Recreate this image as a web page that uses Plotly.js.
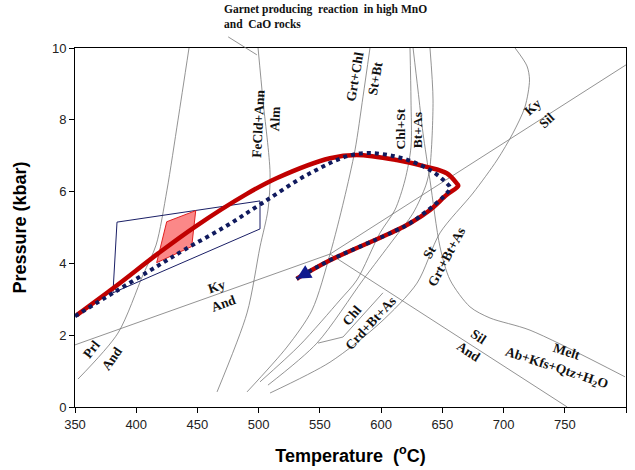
<!DOCTYPE html>
<html><head><meta charset="utf-8">
<script src="https://cdn.plot.ly/plotly-3.0.1.min.js"></script>
<style>html,body{margin:0;padding:0;background:#fff}#chart{width:635px;height:470px}</style>
</head><body><div id="chart"></div>
<script>
// ---- PT path (prograde + retrograde) ----
const redT = [351.4, 382.7, 418, 448, 490, 515, 558.3, 580, 612.7, 637.2, 653.6, 661.7, 663, 653.6, 640, 623.6, 607.3, 558.3, 536.4, 531];
const redP = [2.56, 3.35, 4.28, 5.02, 5.93, 6.38, 6.93, 7.02, 6.88, 6.69, 6.51, 6.23, 6.16, 5.91, 5.49, 5.12, 4.84, 4.09, 3.68, 3.57];
const blueT = [350, 382.7, 418, 439.8, 472.5, 502.5, 541.9, 580, 612.7, 640, 653.6, 656.3, 650.9, 640, 623.6, 607.3, 558.3, 536.4, 531];
const blueP = [2.53, 3.21, 3.94, 4.39, 5.02, 5.67, 6.51, 7.05, 6.97, 6.6, 6.23, 6.1, 5.86, 5.53, 5.12, 4.84, 4.09, 3.68, 3.57];
// ---- outlined box and red estimate polygon ----
const boxT = [384.3, 501.1, 501.1, 381.0, 384.3];
const boxP = [5.15, 5.74, 4.96, 3.18, 5.15];
const polyT = [424.9, 448.6, 445.3, 416.7, 424.9];
const polyP = [5.16, 5.47, 4.47, 4.02, 5.16];
// ---- reaction curves ----
const prlT = [352.5, 385.1, 405.5, 416.2, 425.1, 434.1, 443.1];
const prlP = [0.78, 2.06, 3.68, 4.51, 6.04, 7.99, 10.0];
const almT = [499.5, 503.5, 509.3, 507.6, 501.1, 490.5, 466.0];
const almP = [10.0, 8.55, 6.52, 5.49, 4.46, 2.62, 0.42];
const grtChlT = [590.9, 585.2, 578.7, 569.7, 558.3, 543.6, 523.1, 490.5];
const grtChlP = [10.0, 8.64, 7.16, 5.77, 4.26, 2.70, 1.67, 0.42];
const chlStAT = [623.6, 624.4, 624.4, 619.5, 611.3, 599.1, 580.3, 566.4, 533.8, 501.1];
const chlStAP = [10.0, 8.55, 7.24, 6.32, 5.49, 4.85, 3.54, 2.98, 1.73, 0.70];
const chlStBT = [639.9, 642.4, 639.9, 636.6, 626.1, 609.7, 585.2, 547.6, 507.6];
const chlStBP = [10.0, 8.55, 6.69, 6.18, 5.40, 4.65, 3.54, 1.78, 0.61];
const meltT = [626.1, 630.1, 634.2, 639.9, 648.1, 656.3, 672.6, 688.9, 721.6, 799.2];
const meltP = [10.0, 8.83, 7.63, 6.32, 4.46, 3.54, 2.79, 2.48, 2.14, 0.84];
const stT = [509.3, 558.3, 599.1, 629.3, 648.1, 675.1, 694.7, 707.7, 717.5, 721.2, 719.1, 709.4];
const stP = [0.39, 1.25, 2.34, 3.45, 4.85, 5.96, 6.88, 7.63, 8.36, 9.11, 9.50, 10.0];
const chlCrdT = [548.5, 568.9, 601.5];
const chlCrdP = [1.78, 1.95, 3.18];
const kyAndT = [350, 558.3];
const kyAndP = [1.73, 4.26];
const kySilT = [558.3, 800];
const kySilP = [4.26, 9.53];
const silAndT = [558.3, 752];
const silAndP = [4.26, 0.0];
// ---- ticks ----
const xTicks = [350, 400, 450, 500, 550, 600, 650, 700, 750, 800];
const yTicks = [0, 2, 4, 6, 8, 10];
// ---- labels ----
const labelText = ["Prl", "And", "Ky", "And", "FeCld+Ann", "Alm", "Grt+Chl", "St+Bt", "Chl+St", "Bt+As", "Ky", "Sil", "St", "Grt+Bt+As", "Chl", "Crd+Bt+As", "Sil", "And", "Melt", "Ab+Kfs+Qtz+H<sub>2</sub>O"];
const labelT = [363.6, 380, 465.7, 471.1, 499.7, 513.3, 578.7, 595, 615.4, 630.4, 724.3, 735.2, 639.9, 653.6, 576, 591, 679.4, 671.2, 751.6, 743.4];
const labelP = [1.59, 1.36, 3.35, 2.89, 7.90, 8.04, 9.2, 9.16, 7.76, 7.72, 8.36, 7.99, 4.33, 4.19, 2.56, 2.33, 1.96, 1.54, 1.54, 1.08];
const labelAngle = [-52, -55, -18, -20, -87, -87, -80, -80, -90, -90, -42, -42, -60, -62, -50, -47, 33, 33, 18, 18];

function curve(x, y) { return {x, y, mode: 'lines', line: {color: '#777', width: 0.8}, hoverinfo: 'skip', showlegend: false}; }
function sm(x, y) { const t = curve(x, y); t.line = {color: '#777', width: 0.8, shape: 'spline', smoothing: 0.8}; return t; }

const traces = [
  sm(prlT, prlP), sm(almT, almP), sm(grtChlT, grtChlP), sm(chlStAT, chlStAP), sm(chlStBT, chlStBP),
  sm(meltT, meltP), sm(stT, stP), curve(chlCrdT, chlCrdP),
  curve(kyAndT, kyAndP), curve(kySilT, kySilP), curve(silAndT, silAndP),
  {x: boxT, y: boxP, mode: 'lines', line: {color: '#1a1f66', width: 1}, showlegend: false},
  {x: polyT, y: polyP, mode: 'lines', fill: 'toself', fillcolor: 'rgba(250,115,115,0.85)', line: {color: '#e02020', width: 1}, showlegend: false},
  {x: redT, y: redP, mode: 'lines', line: {color: '#c00000', width: 4.5, shape: 'spline', smoothing: 1}, showlegend: false},
  {x: blueT, y: blueP, mode: 'lines', line: {color: '#101a5e', width: 4, dash: 'dot', shape: 'spline', smoothing: 1}, showlegend: false}
];

const serif = "'Liberation Serif', 'Times New Roman', serif";
const annotations = labelText.map((t, i) => ({
  x: labelT[i], y: labelP[i], xref: 'x', yref: 'y', text: '<b>' + t + '</b>', showarrow: false,
  textangle: labelAngle[i], font: {family: serif, size: 13.5, color: '#111'}
}));
const n = blueT.length;
annotations.push({
  x: blueT[n - 1], y: blueP[n - 1], ax: blueT[n - 2], ay: blueP[n - 2], xref: 'x', yref: 'y', axref: 'x', ayref: 'y',
  text: '', showarrow: true, arrowhead: 2, arrowsize: 1.3, arrowwidth: 2.2, arrowcolor: '#101a8e'
});
annotations.push({
  x: 0.267, y: 1.13, xref: 'paper', yref: 'paper', xanchor: 'left', yanchor: 'top', align: 'left', showarrow: false,
  text: '<b>Garnet producing  reaction  in high MnO<br>and  CaO rocks</b>', font: {family: serif, size: 11.5, color: '#111'}
});

const layout = {
  width: 635, height: 470,
  margin: {l: 75, r: 9, t: 48, b: 63},
  paper_bgcolor: '#fff', plot_bgcolor: '#fff',
  showlegend: false,
  xaxis: {range: [350, 800], tickvals: xTicks, ticktext: xTicks.map(String), showgrid: false, zeroline: false,
    showline: true, linecolor: '#000', linewidth: 1, mirror: true, ticks: 'outside', ticklen: 5, tickcolor: '#000',
    tickfont: {family: "'Liberation Sans', Arial, sans-serif", size: 13, color: '#222'},
    title: {text: '<b>Temperature  (<sup>o</sup>C)</b>', font: {family: "'Liberation Sans', Arial, sans-serif", size: 18, color: '#000'}, standoff: 18}},
  yaxis: {range: [0, 10], tickvals: yTicks, ticktext: yTicks.map(String), showgrid: false, zeroline: false,
    showline: true, linecolor: '#000', linewidth: 1, mirror: true, ticks: 'outside', ticklen: 5, tickcolor: '#000',
    tickfont: {family: "'Liberation Sans', Arial, sans-serif", size: 13, color: '#222'},
    title: {text: '<b>Pressure (kbar)</b>', font: {family: "'Liberation Sans', Arial, sans-serif", size: 18, color: '#000'}, standoff: 20}},
  annotations: annotations,
  shapes: [{type: 'line', xref: 'paper', yref: 'paper', x0: 0.278, y0: 1.031, x1: 0.330, y1: 0.981, line: {color: '#777', width: 0.8}}]
};
Plotly.newPlot('chart', traces, layout, {displayModeBar: false, staticPlot: true});
</script></body></html>
